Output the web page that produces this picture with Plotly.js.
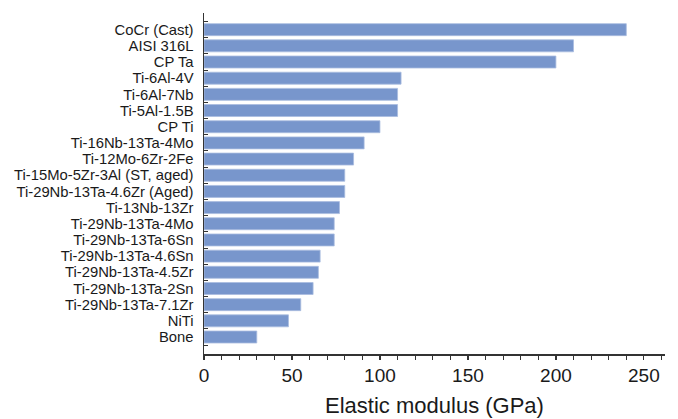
<!DOCTYPE html>
<html>
<head>
<meta charset="utf-8">
<script src="https://cdn.plot.ly/plotly-3.0.1.min.js"></script>
<style>html,body{margin:0;padding:0;background:#fff;}#chart{width:678px;height:419px;}</style>
</head>
<body>
<div id="chart"></div>
<script>
var materials = [
  "CoCr (Cast)", "AISI 316L", "CP Ta", "Ti-6Al-4V", "Ti-6Al-7Nb", "Ti-5Al-1.5B", "CP Ti",
  "Ti-16Nb-13Ta-4Mo", "Ti-12Mo-6Zr-2Fe", "Ti-15Mo-5Zr-3Al (ST, aged)", "Ti-29Nb-13Ta-4.6Zr (Aged)",
  "Ti-13Nb-13Zr", "Ti-29Nb-13Ta-4Mo", "Ti-29Nb-13Ta-6Sn", "Ti-29Nb-13Ta-4.6Sn", "Ti-29Nb-13Ta-4.5Zr",
  "Ti-29Nb-13Ta-2Sn", "Ti-29Nb-13Ta-7.1Zr", "NiTi", "Bone"
];
var modulus = [240, 210, 200, 112, 110, 110, 100, 91, 85, 80, 80, 77, 74, 74, 66, 65, 62, 55, 48, 30];
var xTicks = [0, 50, 100, 150, 200, 250];

var cats = materials.slice().reverse();
var vals = modulus.slice().reverse();

var trace = {
  type: "bar",
  orientation: "h",
  y: cats,
  x: vals,
  width: 0.74,
  marker: {color: "#7896cc", line: {color: "#a9bde0", width: 0.8}},
  hoverinfo: "x+y"
};

var layout = {
  width: 678, height: 419,
  margin: {l: 204, r: 13, t: 13, b: 65},
  paper_bgcolor: "#fff", plot_bgcolor: "#fff",
  font: {family: "Liberation Sans, Arial, sans-serif", color: "#1a1a1a"},
  showlegend: false,
  xaxis: {
    range: [0, 262],
    tickmode: "array",
    tickvals: xTicks,
    ticktext: xTicks.map(String),
    ticks: "outside", ticklen: 4, tickwidth: 1.2, tickcolor: "#333",
    minor: {dtick: 10, tick0: 0, ticks: "outside", ticklen: 4, tickwidth: 1, tickcolor: "#333"},
    showline: true, linecolor: "#333", linewidth: 1.5,
    showgrid: false, zeroline: false,
    tickfont: {size: 19, color: "#1a1a1a"},
    title: {text: "Elastic modulus (GPa)", font: {size: 22, color: "#1a1a1a"}, standoff: 12}
  },
  yaxis: {
    type: "category",
    range: [-1.05, 20.03],
    tickmode: "array",
    tickvals: cats,
    ticktext: cats,
    ticks: "inside", ticklen: 4, tickwidth: 1, tickcolor: "#333",
    tickson: "boundaries",
    showline: true, linecolor: "#333", linewidth: 1.5,
    showgrid: false, zeroline: false,
    tickfont: {size: 14.8, color: "#1a1a1a"},
    ticklabelstandoff: 6
  },
  bargap: 0.26
};

Plotly.newPlot("chart", [trace], layout, {displayModeBar: false, staticPlot: true});
</script>
</body>
</html>
